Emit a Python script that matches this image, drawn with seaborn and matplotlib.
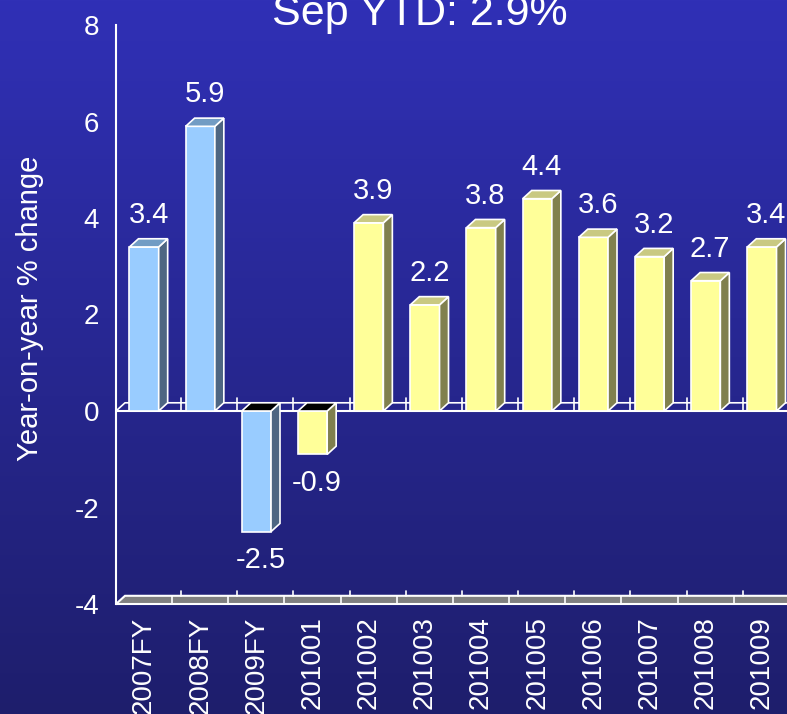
import matplotlib
matplotlib.use("Agg")
import matplotlib.pyplot as plt
import numpy as np
import pandas as pd
import seaborn as sns
from matplotlib.patches import Polygon

# data
categories = ["2007FY", "2008FY", "2009FY", "201001", "201002", "201003",
              "201004", "201005", "201006", "201007", "201008", "201009"]
values = [3.4, 5.9, -2.5, -0.9, 3.9, 2.2, 3.8, 4.4, 3.6, 3.2, 2.7, 3.4]
groups = ["FY", "FY", "FY", "M", "M", "M", "M", "M", "M", "M", "M", "M"]
title_text = "Sep YTD: 2.9%"
y_label = "Year-on-year % change"
y_ticks = [-4, -2, 0, 2, 4, 6, 8]

FRONT = {"FY": "#99CCFF", "M": "#FFFF99"}
SIDE = {"FY": "#4E6682", "M": "#80804E"}
TOP = {"FY": "#729CC4", "M": "#C9C982"}
FONT = ["Liberation Sans", "DejaVu Sans"]

sns.set_theme(style="white")
plt.rcParams["font.family"] = FONT

df = pd.DataFrame({"cat": categories, "val": values, "grp": groups})

fig = plt.figure(figsize=(7.87, 7.14), dpi=100)

# gradient background
bg = fig.add_axes([0, 0, 1, 1], zorder=0)
grad = np.linspace(0, 1, 256).reshape(-1, 1)
top_c = np.array([0x30, 0x30, 0xB6]) / 255
bot_c = np.array([0x1E, 0x1E, 0x6C]) / 255
img = top_c[None, None, :] * (1 - grad[:, :, None]) + bot_c[None, None, :] * grad[:, :, None]
bg.imshow(img, aspect="auto", extent=[0, 1, 0, 1])
bg.set_axis_off()

ax = fig.add_axes([116 / 787, 110 / 714, 674 / 787, 579 / 714], zorder=1)
ax.patch.set_alpha(0)

sns.barplot(data=df, x="cat", y="val", hue="grp", palette=FRONT, dodge=False,
            width=0.52, saturation=1, edgecolor="white", linewidth=1.2,
            legend=False, ax=ax, zorder=3)

ax.set_xlim(-0.5, len(categories) - 0.5)
ax.set_ylim(-4, 8)
dx, dy = 0.16, 0.17

# 3D floor and zero plane
x0, x1 = -0.5, len(categories) - 0.5
floor = Polygon([(x0, -4), (x1, -4), (x1 + dx, -4 + dy), (x0 + dx, -4 + dy)],
                closed=True, facecolor="#808080", edgecolor="white", lw=1.5,
                zorder=2, clip_on=False)
ax.add_patch(floor)
ax.plot([x0, x1], [0, 0], color="white", lw=1.5, zorder=2, clip_on=False)
ax.plot([x0, x0 + dx, x1 + dx], [0, dy, dy], color="white", lw=1.2, zorder=2,
        clip_on=False)
for b in np.arange(0.5, len(categories) - 0.5, 1.0):
    ax.plot([b + dx, b + dx], [-4 + dy, -4 + dy * 1.6], color="white", lw=1.2, zorder=2)
    ax.plot([b, b], [-4, -4 + dy], color="white", lw=1.2, zorder=2)
    ax.plot([b + dx, b + dx], [0, dy * 1.6], color="white", lw=1.2, zorder=2)

# 3D faces of bars
for patch, v, g in zip(ax.patches[:len(values)], values, groups):
    bx = patch.get_x()
    bw = patch.get_width()
    top = max(v, 0)
    bot = min(v, 0)
    side = Polygon([(bx + bw, bot), (bx + bw + dx, bot + dy), (bx + bw + dx, top + dy),
                    (bx + bw, top)], closed=True, facecolor=SIDE[g],
                   edgecolor="white", lw=1.2, zorder=3, clip_on=False)
    tcol = TOP[g] if v >= 0 else "black"
    topf = Polygon([(bx, top), (bx + dx, top + dy), (bx + bw + dx, top + dy),
                    (bx + bw, top)], closed=True, facecolor=tcol,
                   edgecolor="white", lw=1.2, zorder=3, clip_on=False)
    ax.add_patch(side)
    ax.add_patch(topf)
    cx = bx + bw / 2 + dx / 2
    if v >= 0:
        ax.text(cx, v + dy + 0.2, f"{v:.1f}", ha="center", va="bottom",
                color="white", fontsize=21, zorder=5)
    else:
        ax.text(cx, v - 0.3, f"{v:.1f}", ha="center", va="top",
                color="white", fontsize=21, zorder=5)

for s in ["top", "right", "bottom"]:
    ax.spines[s].set_visible(False)
ax.spines["left"].set_color("white")
ax.spines["left"].set_linewidth(1.5)

ax.set_yticks(y_ticks)
ax.set_yticklabels([str(t) for t in y_ticks])
ax.tick_params(axis="y", direction="in", length=6, width=1.5, color="white",
               labelcolor="white", labelsize=20, pad=12)
ax.tick_params(axis="x", length=0, labelcolor="white", labelsize=20, pad=9,
               labelrotation=90)
for lab in ax.get_xticklabels():
    lab.set_va("top")
ax.set_xlabel("")
ax.set_ylabel(y_label, color="white", fontsize=21)
ax.yaxis.set_label_coords((44 - 116) / 674, 0.51)

fig.text(420 / 787, 1 - 25 / 714, title_text, ha="center", va="baseline",
         color="white", fontsize=31)

fig.savefig("out.png", dpi=100)
